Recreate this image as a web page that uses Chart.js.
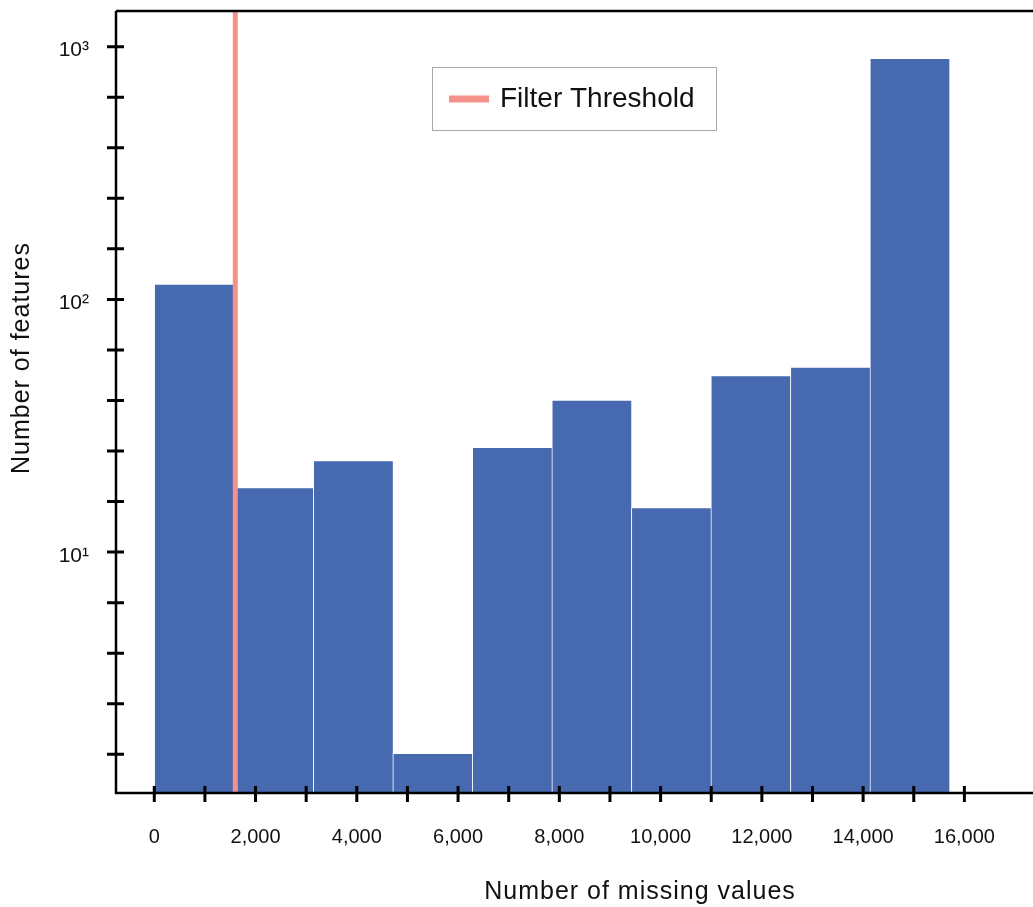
<!DOCTYPE html>
<html>
<head>
<meta charset="utf-8">
<script src="https://cdn.jsdelivr.net/npm/chart.js@4.4.0/dist/chart.umd.min.js"></script>
<style>
  html, body { margin: 0; padding: 0; background: #fff; }
  #chartBox { width: 1033px; height: 907px; }
</style>
</head>
<body>
<div id="chartBox"><canvas id="missingChart" width="1033" height="907"></canvas></div>
<script>
// histogram of missing values per feature
const binEdges = [0, 1570, 3141, 4711, 6282, 7852, 9423, 10993, 12564, 14134, 15705];
const featureCounts = [115, 18, 23, 1.6, 26, 40, 15, 50, 54, 900];
const thresholdValue = 1600;
const thresholdLabel = 'Filter Threshold';

const xLabelValues = [0, 2000, 4000, 6000, 8000, 10000, 12000, 14000, 16000];
const xMinorValues = [1000, 3000, 5000, 7000, 9000, 11000, 13000, 15000];
const yTickExponents = [0.2, 0.4, 0.6, 0.8, 1, 1.2, 1.4, 1.6, 1.8, 2, 2.2, 2.4, 2.6, 2.8, 3];
const yTickLabels = { 1: '10\u00b9', 2: '10\u00b2', 3: '10\u00b3' };
const xRange = [-756, 17355];
const yRange = [1.114, 1384];

const FONT = '"Liberation Sans", Arial, Helvetica, sans-serif';
const BAR_COLOR = '#4769b0';
const LINE_COLOR = '#f4928a';

const binCenters = featureCounts.map((c, i) => (binEdges[i] + binEdges[i + 1]) / 2);

// axis lines, in-out tick marks, axis titles and the boxed legend
const axisDecor = {
  id: 'axisDecor',
  afterDatasetsDraw(chart) {
    const { ctx, chartArea: a, scales: { x, y } } = chart;
    ctx.save();
    ctx.strokeStyle = '#000';
    ctx.lineWidth = 2.5;
    ctx.beginPath();
    ctx.moveTo(a.left, a.top);
    ctx.lineTo(a.right, a.top);
    ctx.moveTo(a.left, a.top);
    ctx.lineTo(a.left, a.bottom);
    ctx.lineTo(a.right, a.bottom);
    ctx.stroke();

    ctx.lineWidth = 3;
    ctx.beginPath();
    xLabelValues.concat(xMinorValues).forEach(v => {
      const px = x.getPixelForValue(v);
      ctx.moveTo(px, a.bottom - 7);
      ctx.lineTo(px, a.bottom + 9);
    });
    y.ticks.forEach(t => {
      const py = y.getPixelForValue(t.value);
      ctx.moveTo(a.left - 9, py);
      ctx.lineTo(a.left + 8, py);
    });
    ctx.stroke();
    ctx.restore();
  },
  afterDraw(chart) {
    const { ctx } = chart;
    ctx.save();
    ctx.fillStyle = '#111';
    ctx.font = '25px ' + FONT;
    ctx.letterSpacing = '1px';
    ctx.textAlign = 'center';
    ctx.textBaseline = 'alphabetic';
    ctx.fillText('Number of missing values', 640, 899);

    ctx.translate(29, 358);
    ctx.rotate(-Math.PI / 2);
    ctx.fillText('Number of features', 0, 0);
    ctx.restore();

    // legend
    const ds = chart.data.datasets[0];
    ctx.save();
    const lx = 432.5, ly = 67.5, lw = 284, lh = 63;
    ctx.fillStyle = 'rgba(255,255,255,0.9)';
    ctx.fillRect(lx, ly, lw, lh);
    ctx.strokeStyle = '#a8a8a8';
    ctx.lineWidth = 1;
    ctx.strokeRect(lx, ly, lw, lh);
    ctx.strokeStyle = ds.borderColor;
    ctx.lineWidth = 7;
    ctx.beginPath();
    ctx.moveTo(449, 99);
    ctx.lineTo(489, 99);
    ctx.stroke();
    ctx.fillStyle = '#111';
    ctx.font = '28px ' + FONT;
    ctx.textAlign = 'left';
    ctx.textBaseline = 'alphabetic';
    ctx.fillText(ds.label, 500, 107);
    ctx.restore();
  }
};

const ctx = document.getElementById('missingChart').getContext('2d');
new Chart(ctx, {
  type: 'bar',
  data: {
    datasets: [
      {
        type: 'line',
        label: thresholdLabel,
        data: [{ x: thresholdValue, y: yRange[0] }, { x: thresholdValue, y: yRange[1] }],
        borderColor: LINE_COLOR,
        borderWidth: 5,
        pointRadius: 0,
        order: 0
      },
      {
        type: 'bar',
        label: 'Features',
        data: binCenters.map((c, i) => ({ x: c, y: featureCounts[i] })),
        backgroundColor: BAR_COLOR,
        borderColor: 'rgba(255,255,255,0.6)',
        borderWidth: { left: 1, top: 1, right: 0, bottom: 0 },
        barPercentage: 1,
        categoryPercentage: 1,
        order: 1
      }
    ]
  },
  options: {
    responsive: false,
    animation: false,
    layout: { padding: { top: 11, right: 0, bottom: 0, left: 0 } },
    plugins: {
      legend: { display: false },
      tooltip: { enabled: false }
    },
    scales: {
      x: {
        type: 'linear',
        offset: false,
        min: xRange[0],
        max: xRange[1],
        grid: { display: false, drawTicks: false },
        border: { display: false },
        afterBuildTicks: scale => { scale.ticks = xLabelValues.map(v => ({ value: v })); },
        afterFit: scale => {
          scale.height = 114;
          scale.paddingLeft = 0;
          scale.paddingRight = 0;
        },
        ticks: {
          autoSkip: false,
          maxRotation: 0,
          padding: 32,
          color: '#111',
          font: { family: FONT, size: 20 },
          callback: v => v.toLocaleString('en-US')
        }
      },
      y: {
        type: 'logarithmic',
        min: yRange[0],
        max: yRange[1],
        grid: { display: false, drawTicks: false },
        border: { display: false },
        afterBuildTicks: scale => { scale.ticks = yTickExponents.map(e => ({ value: Math.pow(10, e) })); },
        afterFit: scale => {
          scale.width = 116;
          scale.paddingTop = 0;
          scale.paddingBottom = 0;
        },
        ticks: {
          autoSkip: false,
          padding: 27,
          labelOffset: 4,
          color: '#111',
          font: { family: FONT, size: 21 },
          callback: v => {
            const e = Math.log10(v);
            const r = Math.round(e);
            return Math.abs(e - r) < 1e-6 ? (yTickLabels[r] || '') : '';
          }
        }
      }
    }
  },
  plugins: [axisDecor]
});
</script>
</body>
</html>
